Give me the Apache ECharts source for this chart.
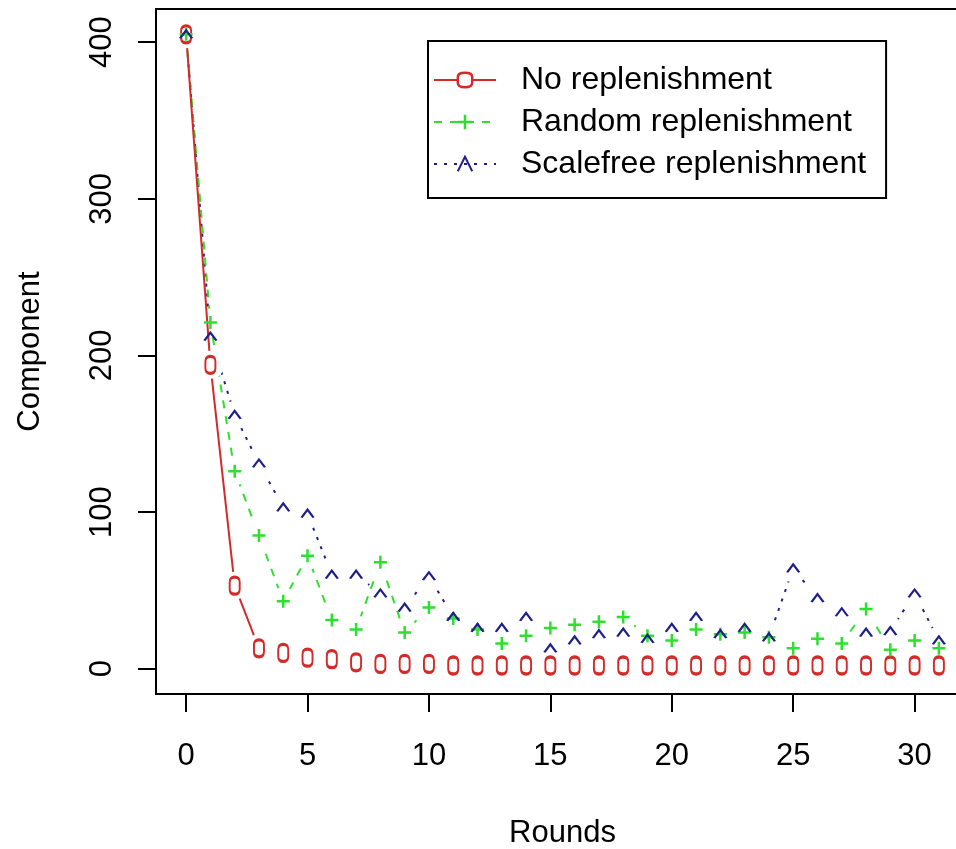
<!DOCTYPE html>
<html>
<head>
<meta charset="utf-8">
<script src="https://cdn.jsdelivr.net/npm/echarts@6/dist/echarts.min.js"></script>
<style>
html,body{margin:0;padding:0;background:#fff;}
#chart{width:956px;height:849px;}
</style>
</head>
<body>
<div id="chart"></div>
<script>
// ---- data ----
const rounds = [0,1,2,3,4,5,6,7,8,9,10,11,12,13,14,15,16,17,18,19,20,21,22,23,24,25,26,27,28,29,30,31];
const noReplenishment = [405,194,53,13,10,7,6,4,3,3,3,2,2,2,2,2,2,2,2,2,2,2,2,2,2,2,2,2,2,2,2,2];
const randomReplenishment = [405,221,126,85,43,72,31,25,68,23,39,32,25,16,21,26,28,30,33,21,18,25,22,23,20,13,19,16,38,12,18,13];
const scalefreeReplenishment = [405,212,162,131,103,99,60,60,48,39,59,33,26,26,33,13,18,22,23,19,26,33,22,26,20,64,45,36,23,24,48,18];
const seriesNames = ['No replenishment','Random replenishment','Scalefree replenishment'];
const yTicks = [0,100,200,300,400];
const xTicks = [0,5,10,15,20,25,30];

const FONT = 'Liberation Sans';
const RED = '#d42a2a', GREEN = '#2fdf2f', BLUE = '#1f1f8a';

const zeroGlyph = 'path://M5,0 Q10,0 10,5 L10,12 Q10,17 5,17 Q0,17 0,12 L0,5 Q0,0 5,0 Z';
const plusGlyph = 'path://M0,6 L12,6 M6,0 L6,12';
const caretGlyph = 'path://M0,8 L6,0 L12,8';

function pairs(vals){ return rounds.map((r,i)=>[r, vals[i]]); }

// lineZ: stacking of each series' line and its white gap marks
const specs = [
  {name:seriesNames[0], vals:noReplenishment, color:RED, glyph:zeroGlyph, size:[10,17], fill:'#fff', bw:2.5, lw:2, type:'solid', lineZ:6},
  {name:seriesNames[1], vals:randomReplenishment, color:GREEN, glyph:plusGlyph, size:[13,13], fill:'none', bw:2.5, lw:2, type:[8,8], lineZ:4},
  {name:seriesNames[2], vals:scalefreeReplenishment, color:BLUE, glyph:caretGlyph, size:[12,8], fill:'none', bw:2, lw:2, type:[3,7], lineZ:2}
];

const series = [];
// glyph series first (legend takes its icon from the first series of a name)
specs.forEach((s,k)=>{
  series.push({
    name:s.name, type:'line', data:pairs(s.vals), z:20+k,
    symbol:s.glyph, symbolSize:s.size, showAllSymbol:true,
    lineStyle:{color:s.color, width:0, opacity:0},
    itemStyle:{color:s.fill, borderColor:s.color, borderWidth:s.bw},
    silent:true
  });
});
// connecting lines
specs.forEach((s)=>{
  series.push({
    name:s.name, type:'line', data:pairs(s.vals), z:s.lineZ,
    symbol:'none', showSymbol:false,
    lineStyle:{color:s.color, width:s.lw, type:s.type},
    silent:true
  });
});
// white gaps round the points (R type "b")
specs.forEach((s)=>{
  series.push({
    name:s.name, type:'scatter', data:pairs(s.vals), z:s.lineZ+1,
    symbol:'circle', symbolSize:28,
    itemStyle:{color:'#fff', opacity:1},
    silent:true
  });
});

const chart = echarts.init(document.getElementById('chart'), null, {renderer:'canvas'});
chart.setOption({
  animation:false,
  backgroundColor:'#fff',
  textStyle:{fontFamily:FONT},
  grid:{left:156, top:9, width:813, height:685, show:true, borderColor:'#000', borderWidth:2, backgroundColor:'transparent', containLabel:false, outerBoundsMode:'none'},
  legend:{
    orient:'vertical', left:428, top:41,
    padding:[23,20,18,5], itemGap:10,
    itemWidth:62, itemHeight:18,
    borderColor:'#000', borderWidth:2,
    backgroundColor:'#fff',
    textStyle:{fontFamily:FONT, fontSize:32, color:'#000', lineHeight:31, padding:[0,0,0,20]},
    data:specs.map(s=>({
      name:s.name,
      lineStyle:{color:s.color, width:s.lw, type:s.type, opacity:1},
      itemStyle:{color:s.fill, borderColor:s.color, borderWidth:s.bw, opacity:1}
    }))
  },
  xAxis:{
    type:'value', min:-1.24, max:32.24,
    name:'Rounds', nameLocation:'middle', nameGap:124,
    nameTextStyle:{fontFamily:FONT, fontSize:31, color:'#000'},
    axisLine:{show:false, onZero:false},
    axisTick:{show:true, length:18, lineStyle:{color:'#000', width:2}, customValues:xTicks},
    axisLabel:{fontFamily:FONT, fontSize:31, color:'#000', margin:47, customValues:xTicks, showMinLabel:true, showMaxLabel:true},
    splitLine:{show:false}
  },
  yAxis:{
    type:'value', min:-16.2, max:421.2,
    name:'Component', nameLocation:'middle', nameGap:110, nameRotate:90,
    nameTextStyle:{fontFamily:FONT, fontSize:31, color:'#000'},
    axisLine:{show:false, onZero:false},
    axisTick:{show:true, length:18, lineStyle:{color:'#000', width:2}, customValues:yTicks},
    axisLabel:{fontFamily:FONT, fontSize:31, color:'#000', rotate:90, margin:38, customValues:yTicks},
    splitLine:{show:false}
  },
  series:series
});
</script>
</body>
</html>
